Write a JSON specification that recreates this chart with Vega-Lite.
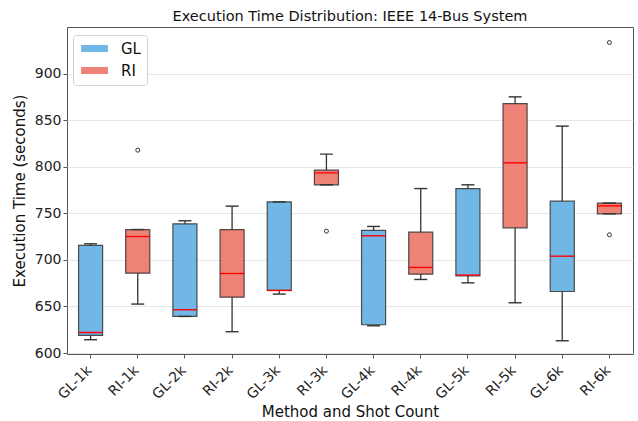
{
  "$schema": "https://vega.github.io/schema/vega-lite/v6.json",
  "width": 566,
  "height": 327,
  "autosize": {"type": "none"},
  "padding": {"left": 67, "top": 27, "right": 5, "bottom": 67},
  "background": "white",
  "config": {
    "font": "DejaVu Sans",
    "view": {"stroke": "#555", "strokeWidth": 1},
    "axis": {"labelColor": "#222", "titleColor": "#111", "titleFontWeight": "normal", "domain": false, "tickColor": "#555"}
  },
  "title": {"text": "Execution Time Distribution: IEEE 14-Bus System", "fontSize": 14.5, "fontWeight": "normal", "color": "#111", "offset": 3},
  "datasets": {
    "stats": [
      {"group": "GL-1k", "method": "GL", "lower": 614.3, "q1": 618.9, "median": 622.1, "q3": 715.5, "upper": 717.3},
      {"group": "RI-1k", "method": "RI", "lower": 652.6, "q1": 685.8, "median": 725.1, "q3": 732.6, "upper": 732.6},
      {"group": "GL-2k", "method": "GL", "lower": 639.3, "q1": 639.3, "median": 646.5, "q3": 738.7, "upper": 742.0},
      {"group": "RI-2k", "method": "RI", "lower": 622.9, "q1": 660.0, "median": 685.4, "q3": 732.6, "upper": 757.7},
      {"group": "GL-3k", "method": "GL", "lower": 663.3, "q1": 667.2, "median": 667.2, "q3": 762.3, "upper": 762.3},
      {"group": "RI-3k", "method": "RI", "lower": 780.6, "q1": 780.6, "median": 793.4, "q3": 796.3, "upper": 813.5},
      {"group": "GL-4k", "method": "GL", "lower": 629.3, "q1": 630.4, "median": 725.9, "q3": 731.6, "upper": 735.9},
      {"group": "RI-4k", "method": "RI", "lower": 679.0, "q1": 684.7, "median": 691.9, "q3": 729.8, "upper": 776.6},
      {"group": "GL-5k", "method": "GL", "lower": 675.4, "q1": 682.9, "median": 683.7, "q3": 776.6, "upper": 780.6},
      {"group": "RI-5k", "method": "RI", "lower": 654.0, "q1": 734.4, "median": 804.2, "q3": 867.8, "upper": 875.0},
      {"group": "GL-6k", "method": "GL", "lower": 613.2, "q1": 666.1, "median": 704.0, "q3": 763.0, "upper": 843.6},
      {"group": "RI-6k", "method": "RI", "lower": 749.5, "q1": 749.5, "median": 758.0, "q3": 761.0, "upper": 761.0}
    ],
    "outliers": [
      {"group": "RI-1k", "value": 817.8},
      {"group": "RI-3k", "value": 730.9},
      {"group": "RI-6k", "value": 933.3},
      {"group": "RI-6k", "value": 727.0}
    ]
  },
  "encoding": {
    "x": {
      "field": "group", "type": "nominal",
      "scale": {"domain": ["GL-1k","RI-1k","GL-2k","RI-2k","GL-3k","RI-3k","GL-4k","RI-4k","GL-5k","RI-5k","GL-6k","RI-6k"], "paddingInner": 0, "paddingOuter": 0},
      "axis": {"title": "Method and Shot Count", "titleFontSize": 15, "titlePadding": 3, "labelAngle": -45, "labelAlign": "right", "labelBaseline": "top", "labelFontSize": 14, "labelOffset": -6, "tickSize": 4, "labelPadding": 5, "grid": false}
    }
  },
  "layer": [
    {
      "data": {"name": "stats"},
      "mark": {"type": "rule", "color": "#333", "strokeWidth": 1.3},
      "encoding": {
        "y": {"field": "lower", "type": "quantitative", "scale": {"domain": [599, 950], "nice": false, "zero": false},
          "axis": {"title": "Execution Time (seconds)", "titleFontSize": 15, "titlePadding": 7, "labelFontSize": 14, "values": [600,650,700,750,800,850,900], "grid": true, "gridColor": "#e6e6e6", "tickSize": 4, "labelPadding": 2}},
        "y2": {"field": "upper"}
      }
    },
    {
      "data": {"name": "stats"},
      "mark": {"type": "bar", "width": {"band": 0.51}, "stroke": "#333", "strokeWidth": 1.2, "strokeOpacity": 0.85},
      "encoding": {
        "y": {"field": "q1", "type": "quantitative"},
        "y2": {"field": "q3"},
        "color": {"field": "method", "type": "nominal",
          "scale": {"domain": ["GL", "RI"], "range": ["#71b7e6", "#ee8276"]},
          "legend": {"title": null, "orient": "none", "legendX": 6, "legendY": 8, "labelFontSize": 15, "labelColor": "#111", "symbolType": "M-1.9,-0.5H1.9V0.5H-1.9Z", "symbolSize": 200, "symbolOffset": 8, "symbolStrokeWidth": 0, "symbolOpacity": 1, "rowPadding": 6, "labelOffset": 19, "padding": 6, "strokeColor": "#d0d0d0", "fillColor": "white", "cornerRadius": 3}
        }
      }
    },
    {
      "data": {"name": "stats"},
      "mark": {"type": "tick", "color": "red", "size": 24, "thickness": 1.4, "opacity": 1},
      "encoding": {"y": {"field": "median", "type": "quantitative"}}
    },
    {
      "data": {"name": "stats"},
      "mark": {"type": "tick", "color": "#333", "size": 13, "thickness": 1.4, "opacity": 1},
      "encoding": {"y": {"field": "lower", "type": "quantitative"}}
    },
    {
      "data": {"name": "stats"},
      "mark": {"type": "tick", "color": "#333", "size": 13, "thickness": 1.4, "opacity": 1},
      "encoding": {"y": {"field": "upper", "type": "quantitative"}}
    },
    {
      "data": {"name": "outliers"},
      "mark": {"type": "point", "shape": "circle", "size": 16, "color": "#333", "strokeWidth": 1, "filled": false, "opacity": 1},
      "encoding": {"y": {"field": "value", "type": "quantitative"}}
    }
  ]
}
